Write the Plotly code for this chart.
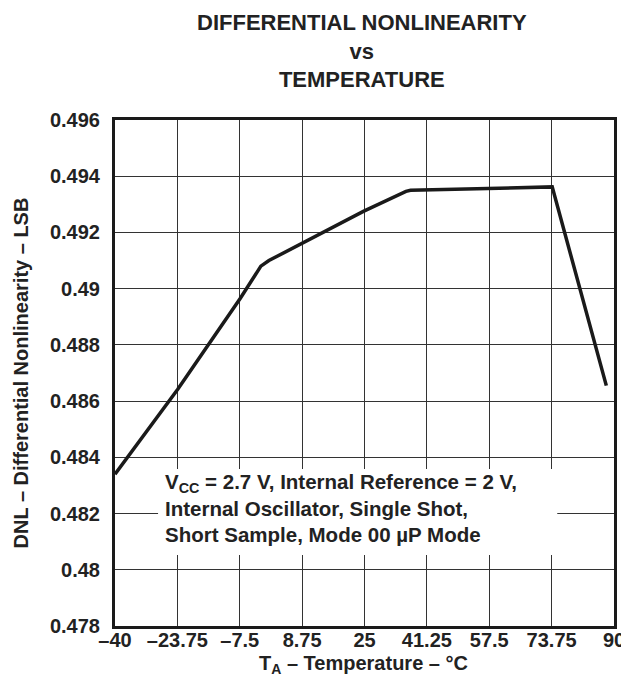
import plotly.graph_objects as go

# Data
temperature_c = [-40, -23.7, -7.3, -2.0, 0.1, 24.7, 35.8, 37.0, 73.9, 88.0]
dnl_lsb = [0.4834, 0.48641, 0.48967, 0.49080, 0.49100, 0.49275, 0.49346, 0.4935, 0.49362, 0.48655]

x_tick_vals = [-40, -23.75, -7.5, 8.75, 25, 41.25, 57.5, 73.75, 90]
x_tick_text = ["–40", "–23.75", "–7.5", "8.75", "25", "41.25", "57.5", "73.75", "90"]
y_tick_vals = [0.478, 0.480, 0.482, 0.484, 0.486, 0.488, 0.490, 0.492, 0.494, 0.496]
y_tick_text = ["0.478", "0.48", "0.482", "0.484", "0.486", "0.488", "0.49", "0.492", "0.494", "0.496"]

FONT = "Liberation Sans, Arial, Helvetica, sans-serif"
TXT = "#222222"
W, H = 629, 679
L, R, T, B = 106, 13, 112, 61
PW, PH = W - L - R, H - T - B


def px_x(p):
    return (p - L) / PW


def px_y(p):
    return (H - B - p) / PH


fig = go.Figure()
fig.add_trace(go.Scatter(
    x=temperature_c, y=dnl_lsb, mode="lines",
    line=dict(color="#1a1a1a", width=3.5),
    hoverinfo="skip", showlegend=False,
))

fig.update_layout(
    width=W, height=H,
    margin=dict(l=L, r=R, t=T, b=B),
    paper_bgcolor="white", plot_bgcolor="white",
    font=dict(family=FONT, color=TXT, size=20),
    xaxis=dict(
        range=[-40, 90], tickmode="array", tickvals=x_tick_vals,
        ticktext=["<b>%s</b>" % t for t in x_tick_text],
        showgrid=True, gridcolor="#333333", gridwidth=1, zeroline=False,
        showline=True, linecolor="#1a1a1a", linewidth=3, mirror=True,
        ticks="", ticklabelstandoff=-6,
        tickfont=dict(family=FONT, size=20, color=TXT),
    ),
    yaxis=dict(
        range=[0.478, 0.496], tickmode="array", tickvals=y_tick_vals,
        ticktext=["<b>%s</b>" % t for t in y_tick_text],
        showgrid=True, gridcolor="#333333", gridwidth=1, zeroline=False,
        showline=True, linecolor="#1a1a1a", linewidth=3, mirror=True,
        ticks="", ticklabelstandoff=8,
        tickfont=dict(family=FONT, size=20, color=TXT),
        title=dict(text="<b>DNL – Differential Nonlinearity – LSB</b>", standoff=16,
                   font=dict(family=FONT, size=20, color=TXT)),
    ),
)

# Title
fig.add_annotation(
    xref="paper", yref="paper", x=px_x(358), y=px_y(43),
    xanchor="center", yanchor="middle", align="center", showarrow=False,
    text="<b>DIFFERENTIAL NONLINEARITY<br>vs<br>TEMPERATURE</b>",
    font=dict(family=FONT, size=22, color=TXT),
)

# X-axis title
fig.add_annotation(
    xref="paper", yref="paper", x=px_x(360), y=px_y(671),
    xanchor="center", yanchor="bottom", showarrow=False,
    text="<b>T<sub>A</sub> – Temperature – °C</b>",
    font=dict(family=FONT, size=20, color=TXT),
)

# White box behind the condition note
fig.add_shape(
    type="rect", xref="paper", yref="paper",
    x0=px_x(150), x1=px_x(558), y0=px_y(547), y1=px_y(461),
    fillcolor="white", line=dict(width=0), layer="above",
)

fig.add_annotation(
    xref="paper", yref="paper", x=px_x(155), y=px_y(500),
    xanchor="left", yanchor="middle", align="left", showarrow=False,
    text="<b>V<sub>CC</sub> = 2.7 V, Internal Reference = 2 V,<br>Internal Oscillator, Single Shot,<br>Short Sample, Mode 00 µP Mode</b>",
    font=dict(family=FONT, size=20.5, color=TXT),
)

fig.write_html("out.html")
